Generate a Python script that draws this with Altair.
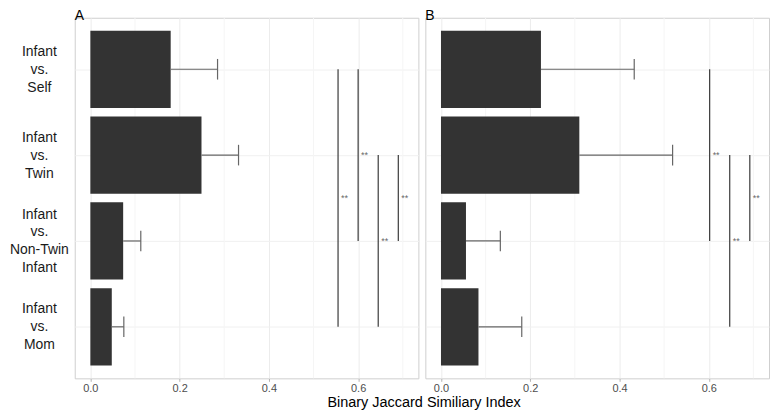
import json
import altair as alt
import pandas as pd

# ---------------- data ----------------
categories = ["Infant|vs.|Self", "Infant|vs.|Twin", "Infant|vs.|Non-Twin|Infant", "Infant|vs.|Mom"]
row_index = [1, 2, 3, 4]

a_mean = [0.180, 0.249, 0.0735, 0.048]
a_upper = [0.285, 0.332, 0.113, 0.075]

b_mean = [0.224, 0.310, 0.056, 0.084]
b_upper = [0.433, 0.519, 0.133, 0.181]

sig_a_x = [0.555, 0.600, 0.645, 0.690]
sig_a_from = [1, 1, 2, 2]
sig_a_to = [4, 3, 4, 3]

sig_b_x = [0.602, 0.647, 0.692]
sig_b_from = [1, 2, 2]
sig_b_to = [3, 4, 3]

sig_label = "**"
x_ticks = [0.0, 0.2, 0.4, 0.6]
minor_ticks = [0.1, 0.3, 0.5, 0.7]
panel_titles = ["A", "B"]
x_title = "Binary Jaccard Similiary Index"

FONT = "Liberation Sans"
LINE_H = 18
label_expr = "split(" + json.dumps([""] + categories) + "[datum.value], '|')"
four_line = [i for i, c in zip(row_index, categories) if c.count("|") == 3]
three_line_off = -LINE_H * 2 / 2
four_line_off = -LINE_H * 3 / 2

xs = alt.Scale(domain=[-0.035, 0.735], nice=False, zero=False)
ys = alt.Scale(domain=[0.4, 4.6], reverse=True, nice=False, zero=False)

xaxis = alt.Axis(values=x_ticks, format=".1f", title=None, grid=True, gridColor="#ececec",
                 domain=False, tickColor="#b3b3b3", tickSize=3, labelColor="#4d4d4d",
                 labelFontSize=11, labelPadding=1, labelFlush=False, labelFont=FONT)


def yaxis(show):
    if show:
        return alt.Axis(values=row_index, labelExpr=label_expr, title=None, grid=True,
                        gridColor="#f0f0f0", domain=False, ticks=False, labelFontSize=14,
                        labelColor="#1a1a1a", labelAlign="center", labelBaseline="middle",
                        labelPadding=36, labelLineHeight=LINE_H, labelOverlap=False,
                        labelFlush=False, labelFont=FONT,
                        labelOffset={"condition": {"test": "indexof(" + json.dumps(four_line) + ", datum.value) >= 0",
                                                   "value": four_line_off},
                                     "value": three_line_off})
    return alt.Axis(values=row_index, labels=False, title=None, grid=True, gridColor="#f0f0f0",
                    domain=False, ticks=False, minExtent=0)


def panel(title, mean, upper, sx, sfrom, sto, show):
    df = pd.DataFrame({"idx": row_index, "cat": categories, "mean": mean, "upper": upper})
    sig = pd.DataFrame({"x": sx, "y1": sfrom, "y2": sto})
    ya = yaxis(show)
    X = lambda f: alt.X(f, scale=xs, axis=xaxis)
    Y = lambda f: alt.Y(f, scale=ys, axis=ya)

    minor = alt.Chart(pd.DataFrame({"x": minor_ticks})).mark_rule(
        color="#f5f5f5", strokeWidth=1).encode(x=X("x:Q"))

    base = alt.Chart(df).transform_calculate(
        z="0", lo="datum.idx - 0.45", hi="datum.idx + 0.45",
        clo="datum.idx - 0.12", chi="datum.idx + 0.12")

    bars = base.mark_rect(color="#333333").encode(
        x=X("z:Q"), x2="mean:Q", y=Y("lo:Q"), y2="hi:Q")
    err = base.mark_rule(color="#666666", strokeWidth=1.2).encode(
        x=X("mean:Q"), x2="upper:Q", y=Y("idx:Q"))
    cap = base.mark_rule(color="#666666", strokeWidth=1.2).encode(
        x=X("upper:Q"), y=Y("clo:Q"), y2="chi:Q")

    sig_rule = alt.Chart(sig).mark_rule(color="#3a3a3a", strokeWidth=1.2).encode(
        x=X("x:Q"), y=Y("y1:Q"), y2="y2:Q")
    sig_text = alt.Chart(sig).transform_calculate(ym="(datum.y1 + datum.y2) / 2").mark_text(
        text=sig_label, align="left", baseline="middle", dx=3, fontSize=9, color="#666666",
        font=FONT).encode(x=X("x:Q"), y=Y("ym:Q"))

    return alt.layer(minor, bars, err, cap, sig_rule, sig_text).properties(
        width=345, height=362,
        title=alt.TitleParams(title, anchor="start", frame="group", fontSize=14,
                              fontWeight="normal", color="#000000", offset=-6, font=FONT))


left = panel(panel_titles[0], a_mean, a_upper, sig_a_x, sig_a_from, sig_a_to, True)
right = panel(panel_titles[1], b_mean, b_upper, sig_b_x, sig_b_from, sig_b_to, False)

chart = alt.hconcat(left, right, spacing=5).properties(
    padding={"left": 0, "top": 0, "right": 0, "bottom": 0},
    title=alt.TitleParams(x_title, orient="bottom", anchor="middle", dx=35, fontSize=14.5,
                          fontWeight="normal", color="#000000", offset=2, font=FONT),
).configure(font=FONT).configure_view(stroke="#cfcfcf", strokeWidth=1)

chart.save("out.html", embed_options={"renderer": "svg", "actions": False})
